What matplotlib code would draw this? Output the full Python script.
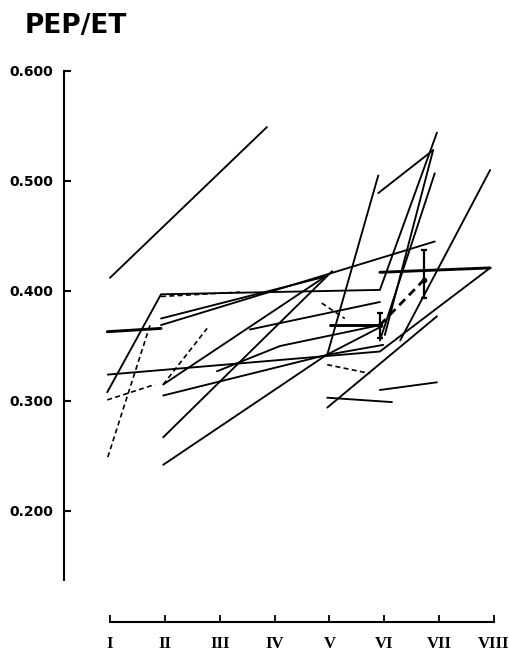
import numpy as np
import matplotlib
matplotlib.use("Agg")
import matplotlib.pyplot as plt

# month positions (I..VIII) and PEP/ET values, one list per trace
months = ["I", "II", "III", "IV", "V", "VI", "VII", "VIII"]
y_ticks = [0.200, 0.300, 0.400, 0.500, 0.600]

a_x = [1.0, 3.86];               a_y = [0.412, 0.549]
b_x = [0.95, 1.93];              b_y = [0.363, 0.366]
c_x = [0.95, 1.93, 5.92, 6.96];  c_y = [0.308, 0.397, 0.401, 0.544]
d_x = [1.93, 6.92];              d_y = [0.369, 0.445]
e_x = [1.93, 4.92];              e_y = [0.375, 0.413]
f_x = [0.96, 5.92, 7.93];        f_y = [0.324, 0.345, 0.421]
g_x = [5.92, 7.93];              g_y = [0.417, 0.421]
h_x = [1.97, 5.05];              h_y = [0.267, 0.418]
i_x = [1.97, 4.95, 5.92];        i_y = [0.242, 0.342, 0.367]
j_x = [1.97, 4.92];              j_y = [0.315, 0.413]
k_x = [1.97, 4.96, 5.98];        k_y = [0.305, 0.342, 0.351]
l_x = [4.96, 6.96];              l_y = [0.294, 0.377]
m_x = [4.96, 5.89];              m_y = [0.342, 0.505]
n_x = [5.89, 6.89];              n_y = [0.489, 0.528]
o_x = [6.89, 6.01];              o_y = [0.528, 0.360]
p_x = [6.92, 5.92];              p_y = [0.507, 0.355]
q_x = [7.93, 6.29];              q_y = [0.510, 0.355]
r_x = [5.92, 6.96];              r_y = [0.310, 0.317]
s_x = [4.96, 6.14];              s_y = [0.303, 0.299]
t_x = [5.01, 5.92];              t_y = [0.369, 0.369]
u_x = [2.95, 4.10, 5.92];        u_y = [0.327, 0.350, 0.369]
v_x = [3.55, 5.92];              v_y = [0.365, 0.390]

solid_thin = [(a_x, a_y), (c_x, c_y), (d_x, d_y), (e_x, e_y), (h_x, h_y),
              (i_x, i_y), (j_x, j_y), (k_x, k_y), (l_x, l_y), (m_x, m_y),
              (n_x, n_y), (o_x, o_y), (p_x, p_y), (q_x, q_y), (r_x, r_y),
              (s_x, s_y), (f_x, f_y), (u_x, u_y), (v_x, v_y)]
solid_thick = [(b_x, b_y), (g_x, g_y), (t_x, t_y)]

# dashed traces
dash1_x = [0.96, 1.73];  dash1_y = [0.249, 0.369]
dash2_x = [0.95, 1.82];  dash2_y = [0.301, 0.315]
dash3_x = [1.97, 2.77];  dash3_y = [0.315, 0.366]
dash4_x = [4.96, 5.74];  dash4_y = [0.333, 0.325]
dash5_x = [5.92, 6.72];  dash5_y = [0.369, 0.410]
dash6_x = [1.93, 3.37];  dash6_y = [0.395, 0.399]
dash7_x = [4.86, 5.28];  dash7_y = [0.389, 0.375]
dashed = [(dash1_x, dash1_y), (dash2_x, dash2_y), (dash3_x, dash3_y),
          (dash4_x, dash4_y), (dash6_x, dash6_y), (dash7_x, dash7_y)]

# means with error bars
err_x = [5.92, 6.72]
err_y = [0.369, 0.410]
err_lo = [0.357, 0.394]
err_hi = [0.380, 0.437]

fig = plt.figure(figsize=(5.10, 6.62), dpi=100)
# axes box in pixels: x 64..500, y 60..630
ax = fig.add_axes([64 / 510, 1 - 630 / 662, 436 / 510, 570 / 662])
ax.set_xlim(1 - 46 / 54.857, 8 + 6 / 54.857)
ax.set_ylim(0.6 - 559 / 1100, 0.6 + 11 / 1100)

for xs, ys in solid_thin:
    ax.plot(xs, ys, color="black", lw=1.35, solid_capstyle="round")
for xs, ys in solid_thick:
    ax.plot(xs, ys, color="black", lw=2.1, solid_capstyle="round")
for xs, ys in dashed:
    ax.plot(xs, ys, color="black", lw=1.2, dashes=(3, 2))
ax.plot(dash5_x, dash5_y, color="black", lw=2.0, dashes=(3, 2))

yerr = [np.array(err_y) - np.array(err_lo), np.array(err_hi) - np.array(err_y)]
ax.errorbar(err_x, err_y, yerr=yerr, fmt="o", color="black", ms=3,
            lw=1.6, capsize=2.5, capthick=1.6)

for side in ["top", "right"]:
    ax.spines[side].set_visible(False)
ax.spines["left"].set_bounds(0.6 - (580 - 71) / 1100, 0.6)
ax.spines["bottom"].set_position(("data", 0.6 - (622 - 71) / 1100))
ax.spines["bottom"].set_bounds(1, 8)
ax.spines["left"].set_linewidth(1.5)
ax.spines["bottom"].set_linewidth(1.5)

ax.set_yticks(y_ticks)
ax.set_yticklabels(["%.3f" % v for v in y_ticks], fontsize=10,
                   fontweight="bold", family="DejaVu Sans")
ax.tick_params(axis="y", direction="in", length=5, width=1.5, pad=8)

ax.set_xticks(range(1, 9))
ax.set_xticklabels(months, fontsize=12, fontweight="bold",
                   family="Liberation Serif")
ax.tick_params(axis="x", direction="in", length=5, width=1.3, pad=10)

fig.text(25 / 510, 1 - 33 / 662, "PEP/ET", fontsize=19, fontweight="bold",
         family="DejaVu Sans", ha="left", va="baseline")

fig.savefig("out.png", dpi=100)
